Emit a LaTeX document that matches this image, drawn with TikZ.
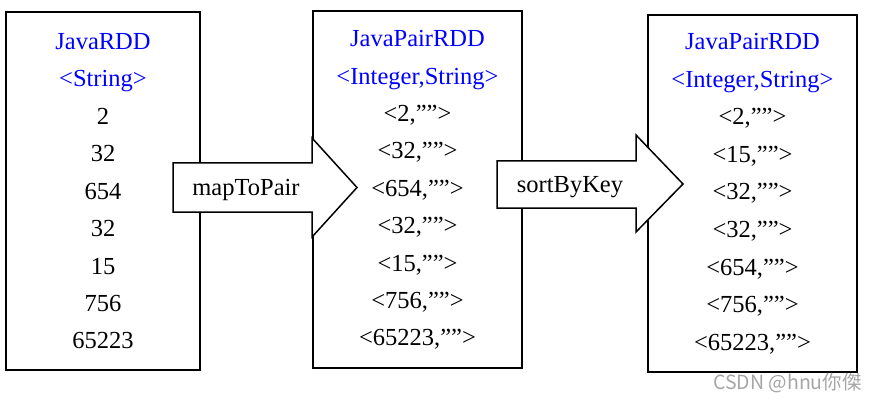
\documentclass[tikz,border=0pt]{standalone}
\usepackage{fontspec}
\setmainfont{Liberation Serif}
\newfontfamily\cjk{Noto Sans CJK SC}
\definecolor{tblue}{RGB}{0,0,255}
\definecolor{wmgray}{RGB}{165,165,165}
\begin{document}
\begin{tikzpicture}[x=1pt,y=-1pt,
  rddbox/.style={draw=black,line width=2pt,fill=white,inner sep=0pt},
  blockarrow/.style={draw=black,line width=1.5pt,fill=white,line join=miter},
  txt/.style={inner sep=0pt,anchor=base,font=\fontsize{24.5}{29}\selectfont},
  hdr/.style={txt,text=tblue},
  lbl/.style={inner sep=0pt,anchor=base,font=\fontsize{24.5}{29}\selectfont}]
\useasboundingbox (0,0) rectangle (873,401);
% boxes
\node[rddbox,minimum width=194pt,minimum height=358pt] (b1) at (103,191) {};
\node[rddbox,minimum width=209pt,minimum height=357pt] (b2) at (417.5,189.5) {};
\node[rddbox,minimum width=209pt,minimum height=357pt] (b3) at (752.5,193.5) {};
% box 1 contents
\node[hdr] (b1h1) at (103,49.5) {JavaRDD};
\node[hdr] (b1h2) at (103,87) {<String>};
\node[txt] (b1r1) at (103,124.4) {2};
\node[txt] (b1r2) at (103,161.8) {32};
\node[txt] (b1r3) at (103,199.2) {654};
\node[txt] (b1r4) at (103,236.6) {32};
\node[txt] (b1r5) at (103,274) {15};
\node[txt] (b1r6) at (103,311.4) {756};
\node[txt] (b1r7) at (103,348.8) {65223};
% box 2 contents
\node[hdr] (b2h1) at (417.5,46.7) {JavaPairRDD};
\node[hdr] (b2h2) at (417.5,84.1) {<Integer,String>};
\node[txt] (b2r1) at (417.5,121.5) {<2,””>};
\node[txt] (b2r2) at (417.5,158.9) {<32,””>};
\node[txt] (b2r3) at (417.5,196.3) {<654,””>};
\node[txt] (b2r4) at (417.5,233.7) {<32,””>};
\node[txt] (b2r5) at (417.5,271.1) {<15,””>};
\node[txt] (b2r6) at (417.5,308.5) {<756,””>};
\node[txt] (b2r7) at (417.5,345.9) {<65223,””>};
% box 3 contents
\node[hdr] (b3h1) at (752.5,50) {JavaPairRDD};
\node[hdr] (b3h2) at (752.5,87.5) {<Integer,String>};
\node[txt] (b3r1) at (752.5,125) {<2,””>};
\node[txt] (b3r2) at (752.5,162.5) {<15,””>};
\node[txt] (b3r3) at (752.5,200) {<32,””>};
\node[txt] (b3r4) at (752.5,237.5) {<32,””>};
\node[txt] (b3r5) at (752.5,275) {<654,””>};
\node[txt] (b3r6) at (752.5,312.5) {<756,””>};
\node[txt] (b3r7) at (752.5,350) {<65223,””>};
% block arrows
\draw[blockarrow] (173,163) -- (312,163) -- (312,138) -- (357,187.5) -- (312,237) -- (312,212) -- (173,212) -- cycle;
\node[lbl] (a1) at (246,195) {mapToPair};
\draw[blockarrow] (497,161) -- (636,161) -- (636,135) -- (683,184) -- (636,232) -- (636,208) -- (497,208) -- cycle;
\node[lbl] (a2) at (570,192.7) {sortByKey};
% watermark
\node[inner sep=0pt,anchor=base east,text=wmgray,font=\cjk\fontsize{19.5}{23}\selectfont] (wm) at (862,389) {CSDN @hnu你傑};
\end{tikzpicture}
\end{document}
